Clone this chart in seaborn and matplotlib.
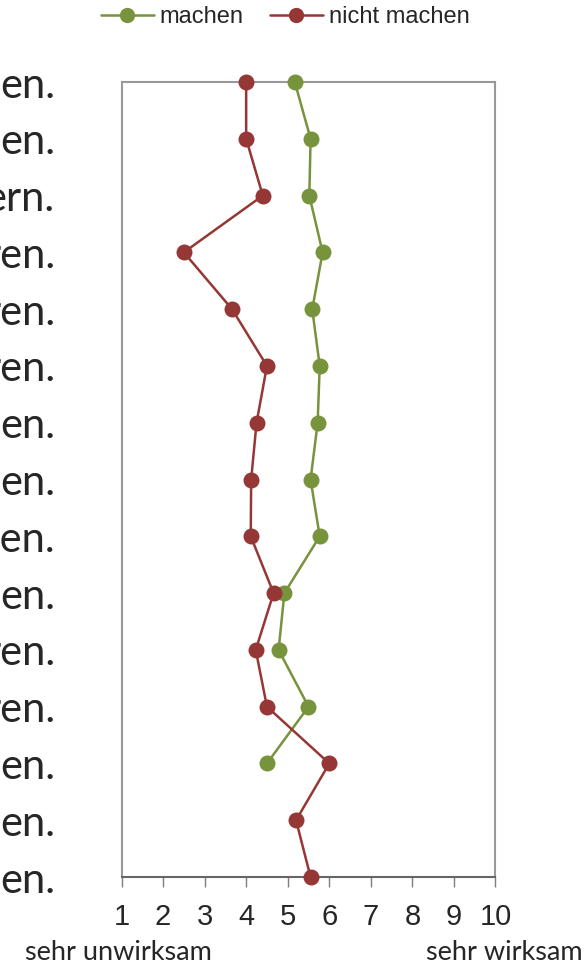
import numpy as np
import pandas as pd
import matplotlib
matplotlib.use("Agg")
import matplotlib.pyplot as plt
from matplotlib.lines import Line2D
import seaborn as sns

# Daten
zeilen = ["en.", "en.", "ern.", "ren.", "ren.", "ren.", "en.", "en.",
          "fen.", "en.", "ren.", "ren.", "en.", "en.", "en."]
machen = [5.17, 5.55, 5.52, 5.84, 5.59, 5.77, 5.72, 5.55, 5.77, 4.92,
          4.78, 5.50, 4.50, np.nan, np.nan]
nicht_machen = [4.00, 4.00, 4.40, 2.50, 3.66, 4.50, 4.25, 4.12, 4.11, 4.66,
                4.23, 4.50, 6.00, 5.20, 5.55]
gruppen = ["machen", "nicht machen"]
farben = {"machen": "#77933C", "nicht machen": "#953735"}
skala = list(range(1, 11))

df = pd.DataFrame({
    "zeile": list(range(len(zeilen))) * 2,
    "wert": machen + nicht_machen,
    "gruppe": ["machen"] * len(zeilen) + ["nicht machen"] * len(zeilen),
})

sns.set_style("white")
plt.rcParams["font.family"] = ["Lato", "DejaVu Sans"]

fig = plt.figure(figsize=(5.85, 9.66), dpi=100)
ax = fig.add_axes([0.2077, 0.0921, 0.6393, 0.823])

sns.lineplot(data=df, x="wert", y="zeile", hue="gruppe", palette=farben,
             orient="y", sort=False, estimator=None, marker="o",
             markersize=11.5, markeredgewidth=0, linewidth=1.8,
             clip_on=False, legend=False, ax=ax, zorder=3)

ax.set_xlim(1, 10)
ax.set_ylim(len(zeilen) - 1, 0)
ax.set_xticks(skala)
ax.set_xticklabels([str(s) for s in skala], fontsize=21, family="Liberation Sans")
ax.set_yticks(range(len(zeilen)))
ax.set_yticklabels(zeilen, fontsize=30)
ax.tick_params(axis="y", length=0, pad=48)
ax.tick_params(axis="x", length=7, width=1, color="#7f7f7f", pad=12, direction="out", bottom=True)
ax.set_xlabel("")
ax.set_ylabel("")
ax.grid(False)

for side in ["left", "top", "right"]:
    ax.spines[side].set_color("#999999")
    ax.spines[side].set_linewidth(1.5)
ax.spines["bottom"].set_color("#666666")
ax.spines["bottom"].set_linewidth(1.5)

# Legende oben
handles = [Line2D([], [], color=farben[g], marker="o", markersize=11,
                  markeredgewidth=0, linewidth=1.8) for g in gruppen]
fig.legend(handles, gruppen, loc="center", bbox_to_anchor=(0.487, 0.9825),
           ncol=2, frameon=False, handlelength=2.25, handletextpad=0.25,
           columnspacing=1.1, borderpad=0,
           prop={"family": "Liberation Sans", "size": 17})

fig.text(25 / 585, 1 - 953 / 966, "sehr unwirksam", ha="left", va="center", fontsize=19.5)
fig.text(583 / 585, 1 - 953 / 966, "sehr wirksam", ha="right", va="center", fontsize=19.5)

fig.savefig("out.png", dpi=100)
